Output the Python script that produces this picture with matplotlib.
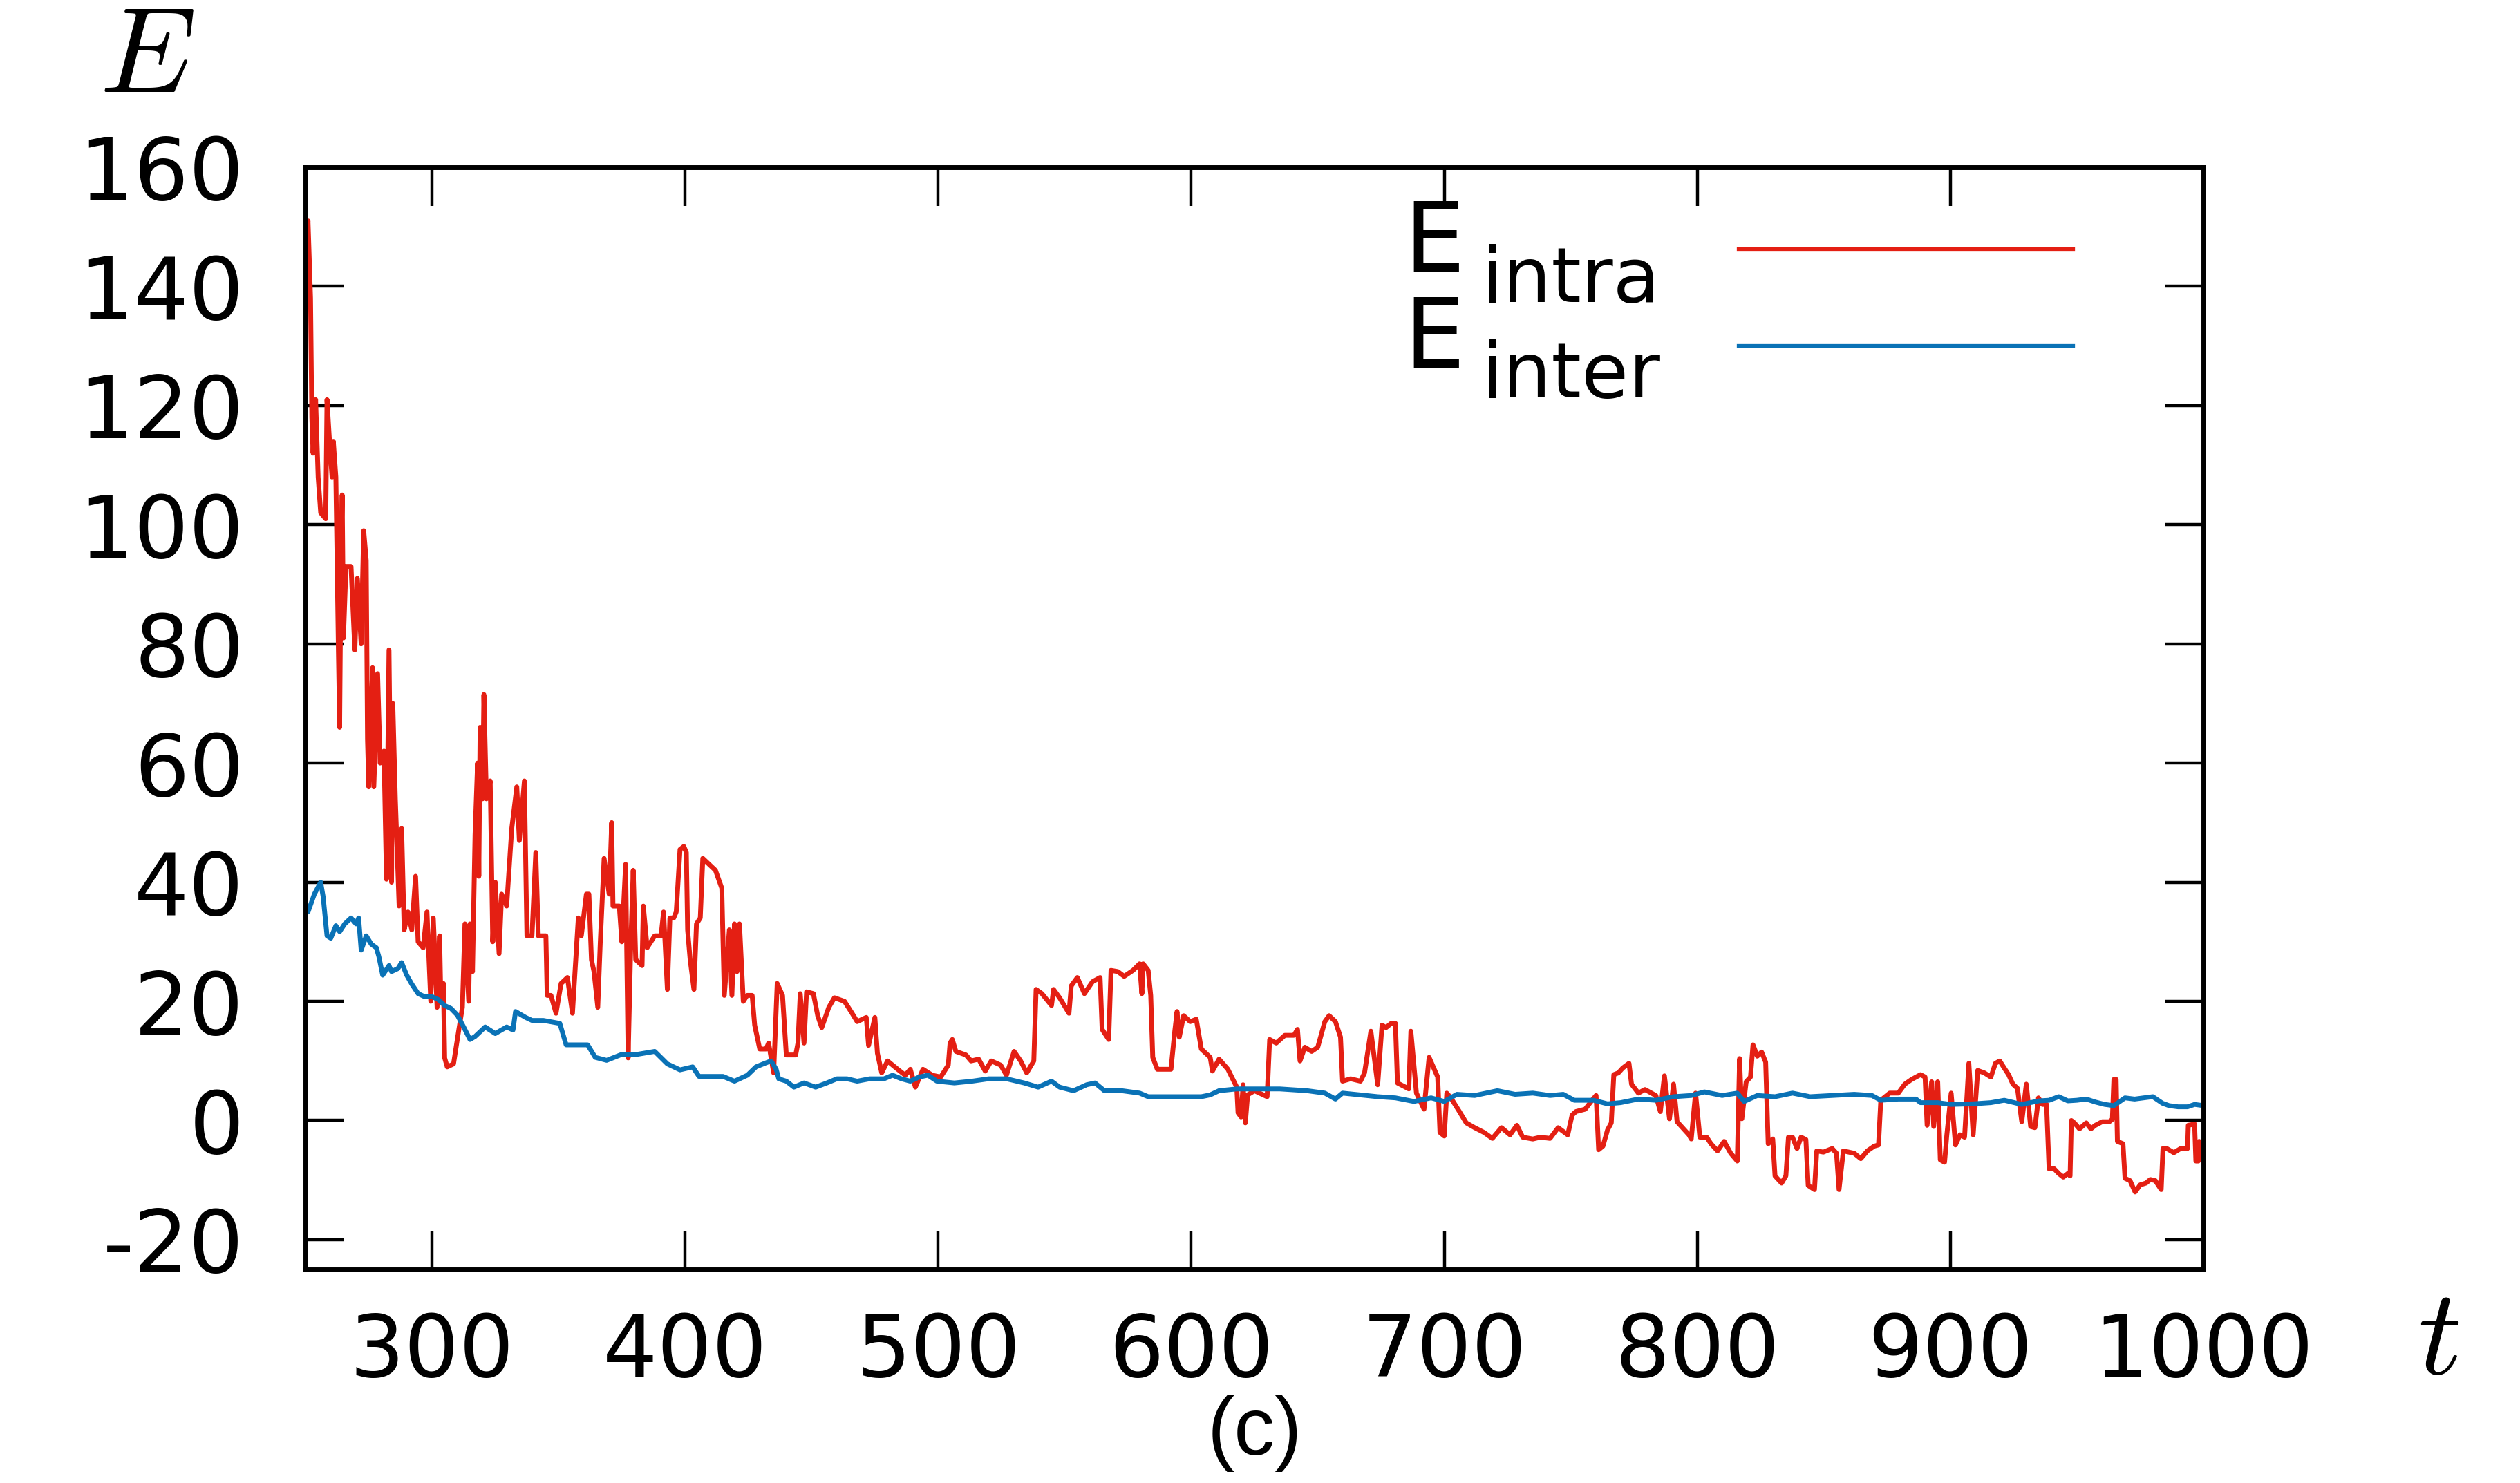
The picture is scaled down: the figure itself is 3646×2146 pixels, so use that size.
import matplotlib
matplotlib.use('Agg')
import matplotlib.pyplot as plt

# E_intra (red), (t, E)
intra_t = [250, 251, 252, 252.5, 253, 254, 255, 256, 258, 258.5, 259.5, 260.5, 261, 262, 263, 263.5,
           264, 264.5, 265, 266, 268, 269.5, 270.5, 272, 273, 274, 274.5, 275, 276.5, 277, 278.5, 279.5,
           281, 282, 283, 284, 284.5, 285.5, 287, 288, 289, 290.5, 292, 293.5, 294.5, 296.5, 298, 299.5,
           300.5, 302, 303, 303.5, 304.5, 305, 306, 308.5, 310.5, 312, 313, 314.5, 315, 316, 317, 318,
           318.5, 319, 320, 320.5, 321.5, 323, 324, 325, 326.5, 327.5, 329.5, 331.5, 333.5, 334.5, 336.5,
           337.5, 339.5, 341, 342, 345, 345.5, 347, 349, 351, 353.5, 355.5, 356.8, 357.8, 359, 361, 362,
           363, 364, 365.5, 366.5, 368, 370, 371, 371.5, 374, 375, 376.5, 377.5, 378.5, 379.5, 380.5, 383,
           383.5, 385, 388, 390.5, 391.5, 393, 394, 395.5, 396.5, 398, 399.5, 400.5, 401, 402, 403.5,
           404.5, 406, 407, 409.5, 412, 414.5, 415.5, 417.5, 418.5, 419.5, 420.5, 421.5, 423, 424.5, 426.5,
           427.5, 429.5, 432, 433, 435, 436.4, 438.5, 440, 443.7, 444.6, 445.5, 447, 448, 450.7, 452.4,
           454, 456.8, 459, 463, 466, 468, 471.6, 472.5, 475, 476, 477.7, 480, 484, 487, 489, 491, 494,
           497.7, 501, 504, 504.7, 505.6, 507, 511, 513, 516, 518.6, 521, 524.7, 527, 530, 532.6, 535,
           537.8, 538.7, 541, 544.8, 545.6, 548, 551.7, 552.6, 555, 557.8, 561, 564, 564.8, 567.4, 568.3,
           571, 573.5, 577, 579.6, 580.5, 581, 583, 584, 584.8, 586.6, 592, 593.5, 594.4, 595.3, 597,
           599.6, 602, 604, 607.5, 608.4, 611, 614.5, 616, 618, 618.5, 619.7, 620.5, 621.4, 622.3, 625,
           630, 631, 633.6, 637, 640.6, 642, 643, 644.9, 647.6, 650, 652.8, 654.5, 657, 659, 659.8, 663,
           666.9, 668.5, 671, 673.7, 675.4, 677, 679, 680.7, 681.5, 686, 686.8, 689, 692, 694, 697.4,
           698.3, 700, 701, 702.6, 706, 708.7, 712, 715.7, 719, 722.6, 726, 728.7, 731, 735, 738, 741.8,
           745, 748.8, 750.5, 752, 755.7, 758.4, 760, 761, 762.7, 764.5, 766, 767, 768.8, 770.5, 773, 774,
           776.7, 779.3, 783.6, 785.4, 787, 789, 790.6, 792, 796.7, 797.6, 799.3, 801, 803.7, 805.4, 808,
           810.6, 813.2, 815.8, 816.7, 817.6, 819.3, 821, 822, 823.7, 825.4, 827, 828, 829.8, 830.7,
           833.3, 835, 836, 837.6, 839.4, 841, 842.9, 843.8, 846.3, 847.2, 849.8, 853.3, 855, 856, 857.7,
           862, 864.6, 867.2, 869.9, 871.6, 872.5, 876, 879.4, 882, 884.7, 888.2, 890, 890.8, 892.6, 893.4,
           895, 896, 897.7, 898.6, 900.3, 902, 903.8, 905.6, 907.3, 909, 910.8, 913.4, 916, 917.8, 919.5,
           921.3, 923, 924.7, 926.5, 928.2, 930, 931.7, 933.4, 934.8, 936.4, 938, 939, 941, 942.8, 944.6,
           946.4, 947.3, 947.8, 949, 951, 953.7, 955.5, 957.3, 960, 962.8, 964, 964.6, 965.5, 966, 968.2,
           969, 971, 973, 975, 977.3, 979, 981, 983.3, 984, 985.5, 988.3, 991, 993.7, 994, 996.5, 997,
           998, 998.3, 1000]
intra_E = [145, 151, 138, 118, 112, 121, 108, 102, 101, 121, 114, 108, 114, 108, 79, 66,
           93, 105, 81, 93, 93, 79, 91, 80, 99, 94, 64, 56, 76, 56, 75, 60,
           62, 40.5, 79, 40, 70, 54, 36, 49, 32, 35, 32, 41, 30, 29, 35, 20,
           34, 19, 31, 20, 23, 10.5, 9, 9.5, 15, 19, 33, 20, 33, 25, 48, 60,
           41, 66, 54, 71.5, 54, 57, 30, 40, 28, 38, 36, 49, 56, 47, 57,
           31, 31, 45, 31, 31, 21, 21, 18, 23, 24, 18, 27, 34, 31, 38, 38,
           27, 25, 19, 30, 44, 38, 50, 36, 36, 30, 43, 10.5, 29, 42, 27, 26,
           36, 29, 31, 31, 35, 22, 34, 34, 35, 45.5, 46, 45, 32, 27, 22,
           33, 34, 44, 43, 42, 39, 21, 32, 21, 33, 25, 33, 20, 21, 21,
           16, 12, 12, 13, 8, 23, 21, 11, 11, 13, 21.3, 13, 21.6, 21.3, 17.6,
           15.6, 19, 20.6, 20, 18, 16.6, 17.3, 12.6, 17.3, 11.3, 8, 10, 8.6, 7.6, 8.6, 5.6, 8.6,
           7.6, 7.3, 9.3, 13, 13.6, 11.6, 11, 10, 10.3, 8.3, 10, 9.3, 7.6, 11.6, 10, 8,
           10, 22, 21.3, 19.3, 22, 20.6, 18, 22.6, 24, 21.3, 23.3, 24, 15.3, 13.6, 25.2,
           25, 24.2, 25.2, 26.3, 21.3, 26.3, 25.2, 21, 10.6, 8.6, 8.6, 15, 18.3, 14, 17.6,
           16.6, 17, 12, 10.6, 8.3, 10.3, 8.6, 7.3, 5.6, 1.3, 0.6, 6, -0.4, 4.3, 5,
           4, 13.6, 13, 14.3, 14.3, 15.3, 10, 12.3, 11.6, 12.3, 16.6, 17.6, 16.6, 14, 6.6, 7,
           6.6, 8, 15, 6, 16, 15.6, 16.3, 16.3, 6.3, 5.3, 15, 4.6, 1.9, 10.6, 7.3,
           -2, -2.6, 4.6, 3.8, 1.5, -0.4, -1.2, -2, -3, -1.2, -2.4, -0.8, -2.8, -3.1, -2.8, -3,
           -1.2, -2.4, 0.9, 1.5, 1.9, 3.4, 4.2, -4.9, -4.3, -1.6, -0.4, 7.7, 8, 8.8, 9.6, 6.1,
           4.6, 5.2, 4.2, 1.5, 7.5, 0.3, 6.1, -0.2, -2.4, -3.1, 4.6, -2.8, -2.8, -3.9, -5.1,
           -3.5, -5.5, -6.8, 10.4, 0.3, 6.5, 7.3, 12.7, 10.8, 11.5, 9.8, -3.9, -3.1, -9.3,
           -10.5, -9.3, -2.8, -2.8, -4.7, -2.8, -3.2, -10.9, -11.6, -5.1, -5.3, -4.7, -5.5, -11.6, -5.1,
           -5.5, -6.4, -5.1, -4.3, -4.1, 3.4, 4.6, 4.6, 6.1, 6.9, 7.7, 7.3, -0.8, 6.5, -1,
           6.5, -6.6, -7, -2.4, 4.6, -4.1, -2.4, -2.8, 9.6, -2.4, 8.4, 8, 7.3, 9.6, 10,
           8.8, 7.7, 6.1, 5.4, -0.2, 6.1, -1, -1.2, 3.8, 2.7, 2.7, -8.1, -8.1, -8.9, -9.5,
           -8.9, -9.3, 0, -0.4, -1.4, -0.4, -1.4, -0.8, -0.2, -0.2, 0.2, 6.9, 6.9, -3.5, -3.9,
           -9.7, -10.1, -12, -10.8, -10.5, -9.9, -10.1, -11.6, -4.7, -4.7, -5.4, -4.7, -4.7, -0.8, -0.6, -6.8,
           -6.8, -3.5, -6]

# E_inter (blue)
inter_t = [250, 251, 253.5, 256, 257, 258.5, 260, 262, 263.5, 265.5, 268, 270, 271, 272, 274, 276, 278,
           279, 280.5, 283, 284, 286.5, 288, 290, 292, 294.5, 297, 300, 302.5, 305, 307.5, 310, 312.5,
           315, 317, 321, 325, 329.5, 332, 333, 337, 339.5, 344, 350.5, 353, 356.5, 361.5, 364.5, 369,
           375, 381, 388, 393, 398, 403, 405.5, 415, 419.5, 424.6, 428, 431.5, 434, 436, 437, 440, 443,
           447, 451.6, 456, 460, 464, 468, 473, 478.6, 482, 485.5, 489, 492.5, 496, 499.5, 506.4, 513.4,
           520, 527, 534, 539.5, 544.8, 548, 553.5, 558.7, 562, 565.7, 572.6, 579.6, 583, 588, 597, 604,
           607.5, 611, 618, 625, 635, 645.8, 652.8, 657, 659.8, 666.7, 673.7, 680.7, 688, 694.8, 700, 705,
           712, 721, 728, 735, 741.8, 747, 751.4, 759, 764.5, 769.7, 776.7, 783.6, 790.6, 797.6, 802.8,
           809.8, 815.8, 818.5, 823.7, 830.7, 837.6, 844.6, 853.3, 862, 869, 872.5, 879.4, 886.4, 888.2,
           895, 900.3, 909, 916, 921.3, 928.2, 935, 939, 942.8, 946.4, 950, 953.7, 957.3, 961, 964.6, 969,
           972.8, 976.4, 980, 983.8, 986.4, 990, 993.7, 996.5, 1000]
inter_E = [36, 35, 38, 40, 37.5, 31, 30.6, 32.7, 31.7, 33, 34, 33, 34, 28.6, 31, 29.6, 29,
           27.5, 24.4, 26, 25, 25.5, 26.5, 24.4, 22.9, 21.3, 20.8, 20.8, 20.3, 19.3, 18.8, 17.7, 15.7,
           13.6, 14.1, 15.7, 14.6, 15.7, 15.2, 18.3, 17.3, 16.8, 16.8, 16.3, 12.7, 12.7, 12.7, 10.6, 10.1,
           11.1, 11.1, 11.6, 9.5, 8.5, 9, 7.4, 7.4, 6.6, 7.6, 9, 9.6, 10, 8.6, 7, 6.6, 5.6,
           6.3, 5.6, 6.3, 7, 7, 6.6, 7, 7, 7.6, 7, 6.6, 7.3, 7.6, 6.6, 6.3, 6.6,
           7, 7, 6.3, 5.6, 6.6, 5.6, 5, 6, 6.3, 5, 5, 4.6, 4, 4, 4, 4,
           4.3, 5, 5.3, 5.3, 5.3, 5, 4.6, 3.6, 4.6, 4.3, 4, 3.8, 3.2, 3.8, 3.2, 4.4,
           4.2, 5, 4.4, 4.6, 4.2, 4.4, 3.4, 3.4, 2.8, 3, 3.6, 3.4, 4, 4.2, 4.8,
           4.2, 4.6, 3.2, 4.2, 4, 4.6, 4, 4.2, 4.4, 4.2, 3.4, 3.6, 3.6, 3,
           3, 2.7, 2.8, 3, 3.4, 2.7, 3.3, 3.4, 4, 3.3, 3.4, 3.6, 3.1, 2.7, 2.5, 3.8,
           3.6, 3.8, 4, 2.9, 2.5, 2.3, 2.3, 2.7, 2.5]

x_ticks = [300, 400, 500, 600, 700, 800, 900, 1000]
y_ticks = [-20, 0, 20, 40, 60, 80, 100, 120, 140, 160]

RED = '#e41f13'
BLUE = '#0a72b6'

W, H = 3646, 2146


def fx(x):
    return x / W


def fy(y):
    return 1 - y / H


plt.rcParams['font.family'] = ['DejaVu Sans']
plt.rcParams['mathtext.fontset'] = 'cm'
plt.rcParams['axes.unicode_minus'] = False

fig = plt.figure(figsize=(W / 100, H / 100), dpi=100)
ax = fig.add_axes([fx(442), fy(1837), (3188 - 442) / W, (1837 - 242) / H])

l1, = ax.plot(intra_t, intra_E, color=RED, lw=5)
l2, = ax.plot(inter_t, inter_E, color=BLUE, lw=5)

ax.set_xlim(250, 1000)
ax.set_ylim(-25, 160)
ax.set_xticks(x_ticks)
ax.set_yticks(y_ticks)
for s in ax.spines.values():
    s.set_linewidth(5)
ax.tick_params(direction='in', length=40, width=3.2, top=True, right=True, labelsize=90)
ax.tick_params(axis='x', pad=43)
ax.tick_params(axis='y', pad=64)

# legend: sample lines from the legend, labels as separate texts
leg = ax.legend([l1, l2], ['', ''], loc='upper left', bbox_to_anchor=(fx(2515), fy(337)),
                bbox_transform=fig.transFigure, frameon=False, handlelength=8.72, fontsize=40,
                borderpad=0, borderaxespad=0, handletextpad=0, labelspacing=1.56)
for h in leg.get_lines():
    h.set_linewidth(3.8)
lab = dict(family='DejaVu Sans', va='baseline', ha='left')
fig.text(fx(2031), fy(393), 'E', fontsize=100, **lab)
fig.text(fx(2143), fy(437), 'intra', fontsize=80, **lab)
fig.text(fx(2031), fy(532), 'E', fontsize=100, **lab)
fig.text(fx(2143), fy(575), 'inter', fontsize=80, **lab)

# axis labels
fig.text(fx(212), fy(133), '$E$', ha='center', va='baseline', fontsize=127)
fig.text(fx(3528), fy(1988), '$t$', ha='center', va='baseline', fontsize=127)
fig.text(fx(1815), fy(2075), '(c)', ha='center', va='center', fontsize=85, family='Liberation Sans')

fig.savefig('out.png', dpi=100)
